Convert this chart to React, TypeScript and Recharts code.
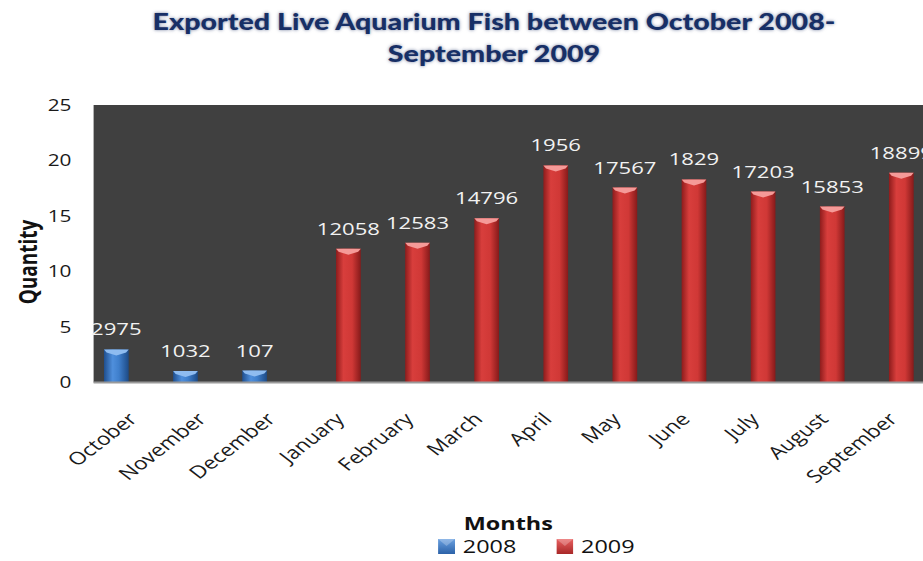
import React from 'react';
import { BarChart, Bar, XAxis, YAxis, CartesianGrid, LabelList, Legend } from 'recharts';

const months = ['October', 'November', 'December', 'January', 'February', 'March', 'April', 'May', 'June', 'July', 'August', 'September'];
const values2008: (number | null)[] = [2.975, 1.032, 1.07, null, null, null, null, null, null, null, null, null];
const values2009: (number | null)[] = [null, null, null, 12.058, 12.583, 14.796, 19.56, 17.567, 18.29, 17.203, 15.853, 18.899];
const labels2008: (string | null)[] = ['2975', '1032', '107', null, null, null, null, null, null, null, null, null];
const labels2009: (string | null)[] = [null, null, null, '12058', '12583', '14796', '1956', '17567', '1829', '17203', '15853', '18899'];
const yTicks = [0, 5, 10, 15, 20, 25];
const seriesNames = ['2008', '2009'];

const data = months.map((m, i) => ({
  month: m,
  v2008: values2008[i],
  v2009: values2009[i],
  l2008: labels2008[i],
  l2009: labels2009[i],
}));

const FONT = '"Open Sans", "DejaVu Sans", sans-serif';

const CylBar = (props: any) => {
  const { x, y, width, height, grad, top } = props;
  if (!height || height <= 0) return null;
  return (
    <g>
      <rect x={x} y={y} width={width} height={height} fill={`url(#${grad})`} />
      <polygon points={`${x},${y} ${x + width},${y} ${x + width - 2},${y + 3} ${x + width / 2},${y + 6} ${x + 2},${y + 3}`} fill={top} />
    </g>
  );
};

const LegendIcon = ({ grad }: { grad: string }) => (
  <svg width={13} height={15} style={{ display: 'block' }}>
    <rect x={0} y={0} width={13} height={15} fill={`url(#${grad})`} />
    <polygon points="0,0 13,0 6.5,7" fill="rgba(255,255,255,0.25)" />
  </svg>
);

const renderLegend = () => (
  <div style={{ height: 0, overflow: 'visible' }}>
    <div style={{ display: 'flex', alignItems: 'center', fontFamily: FONT, fontSize: 18, color: '#111', lineHeight: '18px' }}>
      <div style={{ display: 'flex', alignItems: 'center', width: 91 }}>
        <LegendIcon grad="legBlue" />
        <span style={{ marginLeft: 6 }}>{seriesNames[0]}</span>
      </div>
      <div style={{ display: 'flex', alignItems: 'center' }}>
        <LegendIcon grad="legRed" />
        <span style={{ marginLeft: 6 }}>{seriesNames[1]}</span>
      </div>
    </div>
  </div>
);

export default function App() {
  return (
    <div style={{ position: 'absolute', left: 0, top: 0, width: 710, height: 561, transform: 'scaleX(1.3)', transformOrigin: '0 0', background: '#fff' }}>
      <svg width={0} height={0} style={{ position: 'absolute' }}>
        <defs>
          <linearGradient id="gBlue" x1="0" y1="0" x2="1" y2="0">
            <stop offset="0%" stopColor="#1f4f8f" />
            <stop offset="35%" stopColor="#4f8fdc" />
            <stop offset="60%" stopColor="#3f7fcc" />
            <stop offset="100%" stopColor="#1d4a85" />
          </linearGradient>
          <linearGradient id="gRed" x1="0" y1="0" x2="1" y2="0">
            <stop offset="0%" stopColor="#8e1c1c" />
            <stop offset="30%" stopColor="#d83e3c" />
            <stop offset="65%" stopColor="#d03836" />
            <stop offset="100%" stopColor="#861a1a" />
          </linearGradient>
          <linearGradient id="legBlue" x1="0" y1="0" x2="0" y2="1">
            <stop offset="0%" stopColor="#6aa0e0" />
            <stop offset="100%" stopColor="#2c62a8" />
          </linearGradient>
          <linearGradient id="legRed" x1="0" y1="0" x2="0" y2="1">
            <stop offset="0%" stopColor="#e86060" />
            <stop offset="100%" stopColor="#a82828" />
          </linearGradient>
        </defs>
      </svg>
      <div
        style={{
          position: 'absolute', left: 0, top: 6, width: 760, textAlign: 'center',
          fontFamily: 'Lato, "Open Sans", sans-serif', fontWeight: 900, fontSize: 22, lineHeight: '32px',
          color: '#172f66', textShadow: '0 0 3px rgba(15,35,90,0.6)',
        }}
      >
        Exported Live Aquarium Fish between October 2008-
        <br />
        September 2009
      </div>
      <BarChart
        width={710}
        height={561}
        data={data}
        margin={{ top: 105, right: 0, bottom: 30, left: 0 }}
        barGap={0}
        barSize={19}
      >
        <CartesianGrid fill="#404040" stroke="none" horizontal={false} vertical={false} />
        <XAxis
          dataKey="month"
          interval={0}
          height={148.5}
          tickSize={0}
          tickMargin={29}
          angle={-45}
          textAnchor="end"
          axisLine={{ stroke: '#9a9a9a', strokeWidth: 2 }}
          tickLine={false}
          tick={{ fontFamily: FONT, fontSize: 17.5, fill: '#1a1a1a', dx: -1 }}
          label={{ value: 'Months', position: 'insideBottom', offset: 1, style: { fontFamily: FONT, fontWeight: 700, fontSize: 18, fill: '#111' } }}
        />
        <YAxis
          width={72}
          domain={[0, 25]}
          ticks={yTicks}
          tickSize={0}
          tickMargin={17}
          axisLine={false}
          tickLine={false}
          tick={{ fontFamily: FONT, fontSize: 16, fill: '#1a1a1a' }}
          label={() => (
            <text x={21} y={262} transform="rotate(-90 21 262)" textAnchor="middle" dominantBaseline="central"
              style={{ fontFamily: FONT, fontWeight: 700, fontSize: 19, fill: '#111' }}>Quantity</text>
          )}
        />
        <Legend content={renderLegend} wrapperStyle={{ left: 337, top: 537, width: 250, bottom: 'auto' }} />
        <Bar dataKey="v2008" name={seriesNames[0]} isAnimationActive={false}
          shape={(p: any) => <CylBar {...p} grad="gBlue" top="#8fbcf0" />}>
          <LabelList dataKey="l2008" position="top" offset={14} style={{ fontFamily: FONT, fontSize: 17, fill: '#f2f2f2' }} />
        </Bar>
        <Bar dataKey="v2009" name={seriesNames[1]} isAnimationActive={false}
          shape={(p: any) => <CylBar {...p} grad="gRed" top="#f59a98" />}>
          <LabelList dataKey="l2009" position="top" offset={14} style={{ fontFamily: FONT, fontSize: 17, fill: '#f2f2f2' }} />
        </Bar>
      </BarChart>
    </div>
  );
}
